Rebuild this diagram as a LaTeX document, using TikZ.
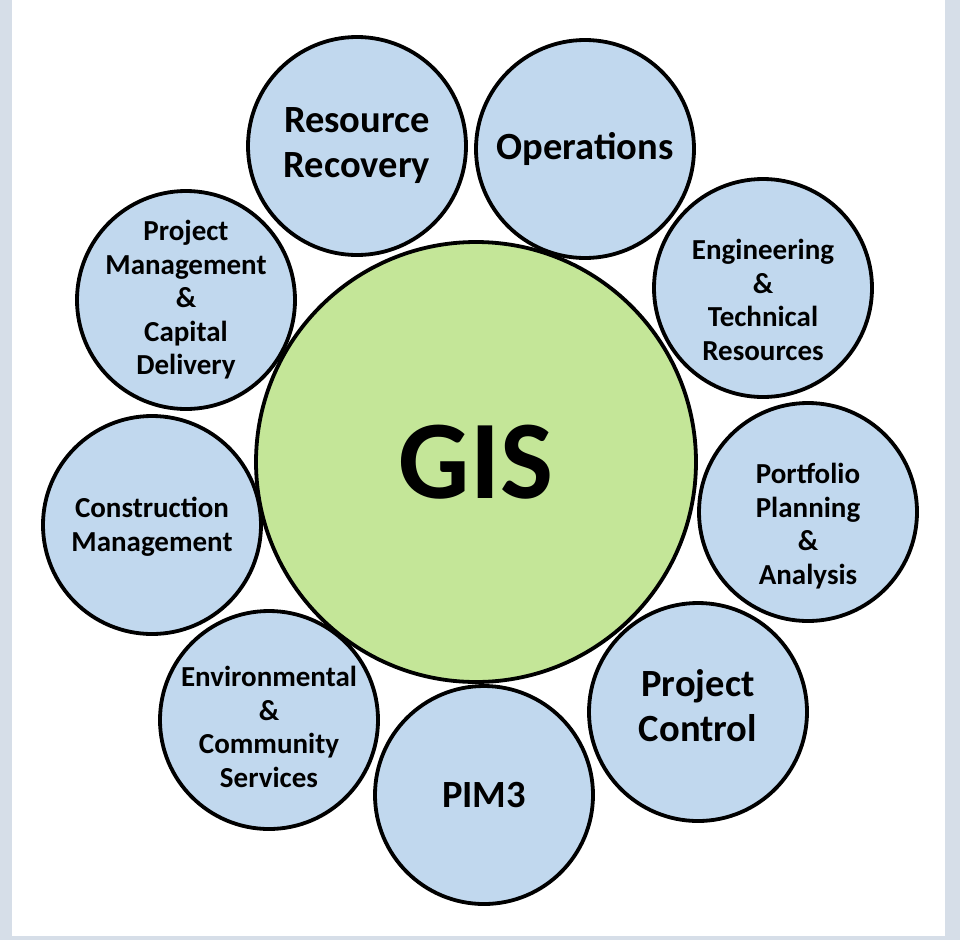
\documentclass[tikz,border=0pt]{standalone}
\usepackage{fontspec}
\setmainfont{Carlito}
\definecolor{unitblue}{RGB}{193,216,238}
\definecolor{gisgreen}{RGB}{196,230,152}
\definecolor{edgegray}{RGB}{214,222,232}
\begin{document}
\begin{tikzpicture}
[
    x=1pt, y=-1pt,
    unit/.style={circle, draw=black, line width=3.8pt, fill=unitblue,
        minimum size=218pt, inner sep=0pt},
    small/.style={align=center, font=\fontsize{29}{33.5}\selectfont\bfseries},
    big/.style={align=center, font=\fontsize{38.5}{45}\selectfont\bfseries},
    hub/.style={circle, draw=black, line width=3.8pt, fill=gisgreen,
        minimum size=440pt, inner sep=0pt, font=\fontsize{112}{112}\selectfont\bfseries},
]
\useasboundingbox (0,0) rectangle (960,940);
\fill[edgegray] (0,0) rectangle (960,940);
\fill[white] (12,0) rectangle (945,936);
\node[hub] (gis) at (476,462) {GIS};
\node[unit, label={[big]center:{Resource\\Recovery}}] (recovery) at (357,146) {};
\node[unit, label={[big]center:{Operations}}] (operations) at (585,149) {};
\node[unit, label={[small, yshift=-12pt]center:{Engineering\\\&\\Technical\\Resources}}] (engineering) at (763,288) {};
\node[unit, label={[small, yshift=-14pt]center:{Portfolio\\Planning\\\&\\Analysis}}] (portfolio) at (808,512) {};
\node[unit, label={[big, yshift=6pt]center:{Project\\Control}}] (control) at (698,712) {};
\node[unit, label={[big]center:{PIM3}}] (pim) at (484,795) {};
\node[unit, label={[small, yshift=-7pt]center:{Environmental\\\&\\Community\\Services}}] (environment) at (269,720) {};
\node[unit, label={[small, yshift=-2pt]center:{Construction\\Management}}] (construction) at (152,525) {};
\node[unit, label={[small]center:{Project\\Management\\\&\\Capital\\Delivery}}] (delivery) at (186,300) {};
\end{tikzpicture}
\end{document}
